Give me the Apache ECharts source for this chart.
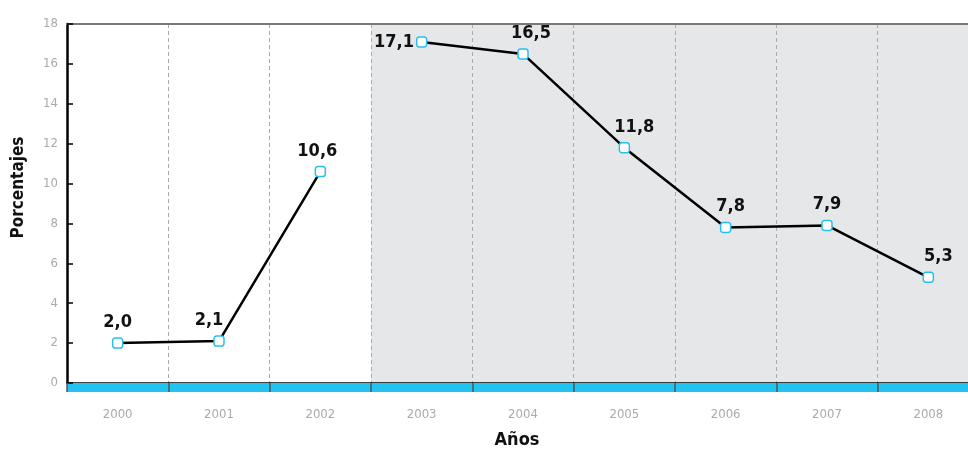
<!DOCTYPE html>
<html>
<head>
<meta charset="utf-8">
<script src="https://cdn.jsdelivr.net/npm/echarts@6/dist/echarts.min.js"></script>
<style>html,body{margin:0;padding:0;background:#fff}#c{width:968px;height:453px}</style>
</head>
<body>
<div id="c"></div>
<script>
var categories = ['2000','2001','2002','2003','2004','2005','2006','2007','2008'];
var seriesA = [2.0, 2.1, 10.6, null, null, null, null, null, null];
var seriesB = [null, null, null, 17.1, 16.5, 11.8, 7.8, 7.9, 5.3];
var shadedCats = ['2003','2004','2005','2006','2007','2008'];
var yTicks = [0, 18, 2];
var labelPlacement = ['top','top','top','left','top','top','top','top','top'];
var labelOffsets = [[0,0],[-10,0],[-3,0],[0,0],[8,0],[10,0],[5,0],[0,0],[10,0]];

var FONT = "'Liberation Sans Narrow','DejaVu Sans Condensed','Roboto Condensed',sans-serif";
var shadeMax = yTicks[1];

function mk(vals) {
  return vals.map(function (v, i) {
    if (v === null) return '-';
    return { value: v, label: { position: labelPlacement[i], offset: labelOffsets[i], distance: labelPlacement[i] === 'left' ? 2 : 6 } };
  });
}
var shadeData = categories.map(function (c) { return shadedCats.indexOf(c) >= 0 ? shadeMax : '-'; });

var lineStyle = { color: '#000', width: 2.5 };
var itemStyle = { color: '#fff', borderColor: '#29c0ef', borderWidth: 1.5 };
var label = {
  show: true, position: 'top', distance: 6,
  fontFamily: FONT, fontWeight: 'bold', fontSize: 18, color: '#111',
  formatter: function (p) { return p.value.toFixed(1).replace('.', ','); }
};

var chart = echarts.init(document.getElementById('c'));
chart.setOption({
  animation: false,
  grid: { left: 67, right: -11, top: 24, bottom: 70, containLabel: false, outerBoundsMode: 'none' },
  xAxis: [
    {
      type: 'category', data: categories, position: 'bottom', boundaryGap: true,
      axisLine: { lineStyle: { color: '#000', width: 1.5 } },
      axisTick: { show: false },
      axisLabel: { color: '#aaa', fontSize: 13, margin: 25, fontFamily: FONT },
      splitLine: { show: true, lineStyle: { color: '#aaa', type: [4, 3], width: 1 } },
      name: 'Años', nameLocation: 'middle', nameGap: 48,
      nameTextStyle: { fontFamily: FONT, fontWeight: 'bold', fontSize: 18, color: '#111', padding: [0, 12, 0, 0] }
    },
    {
      type: 'category', data: categories, position: 'bottom', offset: 4.5, boundaryGap: true,
      axisLine: { lineStyle: { color: '#22c3f0', width: 9, cap: 'butt' } },
      axisTick: { show: false }, axisLabel: { show: false }, splitLine: { show: false }
    },
    {
      type: 'category', data: categories, position: 'bottom', offset: 9, boundaryGap: true,
      axisLine: { show: false },
      axisTick: { show: true, inside: true, length: 9, lineStyle: { color: '#555', width: 1.5 } },
      axisLabel: { show: false }, splitLine: { show: false }
    },
    {
      type: 'category', data: categories, position: 'top', boundaryGap: true,
      axisLine: { lineStyle: { color: '#777', width: 2 } },
      axisTick: { show: false }, axisLabel: { show: false }, splitLine: { show: false }
    }
  ],
  yAxis: {
    type: 'value', min: yTicks[0], max: yTicks[1], interval: yTicks[2],
    axisLine: { show: true, lineStyle: { color: '#000', width: 2.5 } },
    axisTick: { show: true, inside: true, length: 6, lineStyle: { color: '#000', width: 1.5 } },
    axisLabel: { color: '#aaa', fontSize: 13, margin: 9, fontFamily: FONT },
    splitLine: { show: false },
    name: 'Porcentajes', nameLocation: 'middle', nameGap: 40, nameRotate: 90,
    nameTextStyle: { fontFamily: FONT, fontWeight: 'bold', fontSize: 17, color: '#111', padding: [0, 0, 0, 32] }
  },
  series: [
    {
      type: 'bar', data: shadeData, barCategoryGap: '0%', z: -1, silent: true,
      itemStyle: { color: '#e6e7e9' }
    },
    {
      type: 'line', data: mk(seriesA), symbol: 'roundRect', symbolSize: 10,
      lineStyle: lineStyle, itemStyle: itemStyle, label: label, z: 5
    },
    {
      type: 'line', data: mk(seriesB), symbol: 'roundRect', symbolSize: 10,
      lineStyle: lineStyle, itemStyle: itemStyle, label: label, z: 5
    }
  ]
});
</script>
</body>
</html>
